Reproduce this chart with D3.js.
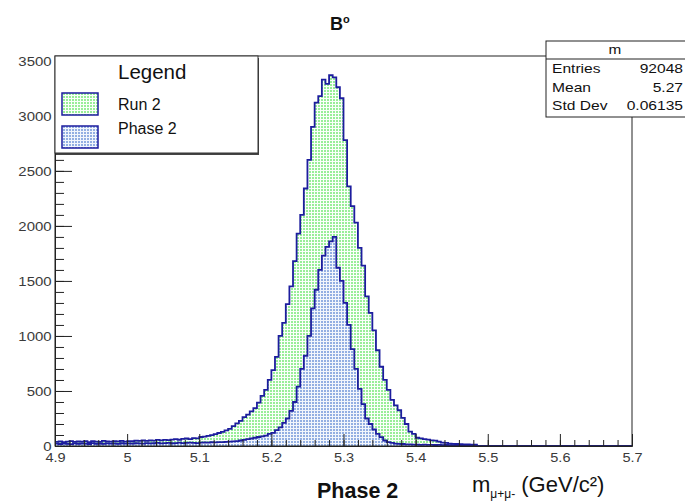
<!DOCTYPE html>
<html>
<head>
<meta charset="UTF-8">
<title>B0 mass</title>
<script src="https://cdnjs.cloudflare.com/ajax/libs/d3/7.8.5/d3.min.js"></script>
<style>
  body { margin: 0; background: #fff; }
  svg text { font-family: "Liberation Sans", Arial, sans-serif; }
</style>
</head>
<body>
<div id="chart"></div>
<script>
// histogram settings: 160 bins of 0.005 from 4.9 to 5.7
var xMin = 4.9, xMax = 5.7, binW = 0.005;

// Run 2 counts per bin
var run2 = [
  38,42,35,40,44,37,41,39,45,36,43,40,38,46,41,39,44,42,47,40,
  45,43,48,46,50,47,52,49,55,51,56,53,58,62,57,64,68,63,72,70,
  82,86,92,98,108,118,128,142,155,180,205,228,262,285,315,345,395,455,510,600,
  690,810,1000,1118,1290,1450,1680,1930,2100,2340,2600,2900,3120,3180,3330,3290,3370,3350,3260,3160,
  2780,2360,2180,2030,1800,1640,1360,1210,1050,870,720,600,510,420,370,325,255,200,130,110,
  75,70,62,58,52,48,40,30,28,22,20,18,16,15,14,13,12,0,0,0,
  0,0,0,0,0,0,0,0,0,0,0,0,0,0,0,0,0,0,0,0,
  0,0,0,0,0,0,0,0,0,0,0,0,0,0,0,0,0,0,0,0
];
// Phase 2 counts per bin
var phase2 = [
  22,18,25,20,17,23,19,24,21,18,26,20,22,19,24,21,23,20,25,22,
  24,21,26,23,22,27,24,25,28,23,26,29,25,27,30,26,28,31,29,27,
  30,32,30,34,33,36,35,38,40,42,45,50,55,62,68,75,82,88,95,110,
  120,145,170,210,250,320,400,540,700,820,1000,1250,1420,1600,1730,1810,1860,1900,1620,1500,
  1300,1100,880,700,520,380,250,200,150,110,80,50,35,28,22,20,18,15,14,12,
  13,11,12,10,11,9,10,8,9,7,8,7,6,6,5,5,4,0,0,0,
  0,0,0,0,0,0,0,0,0,0,0,0,0,0,0,0,0,0,0,0,
  0,0,0,0,0,0,0,0,0,0,0,0,0,0,0,0,0,0,0,0
];
var xTicks = [4.9, 5, 5.1, 5.2, 5.3, 5.4, 5.5, 5.6, 5.7];
var yTicks = [0, 500, 1000, 1500, 2000, 2500, 3000, 3500];
var legendNames = ["Run 2", "Phase 2"];
var statNames = ["Entries", "Mean", "Std Dev"];
var statValues = ["92048", "5.27", "0.06135"];

var width = 685, height = 502;
var padL = 55, padR = 632, padT = 56, padB = 446;
var lineColor = "#1d1d9e";

var svg = d3.select("#chart").append("svg")
  .attr("width", width).attr("height", height);

// dot patterns like ROOT fill styles
var defs = svg.append("defs");
var pg = defs.append("pattern").attr("id", "pgreen")
  .attr("width", 3).attr("height", 3).attr("patternUnits", "userSpaceOnUse");
pg.append("rect").attr("width", 3).attr("height", 3).attr("fill", "#fafffa");
pg.append("rect").attr("width", 2).attr("height", 2).attr("fill", "#98ee98");
var pb = defs.append("pattern").attr("id", "pblue")
  .attr("width", 3).attr("height", 3).attr("patternUnits", "userSpaceOnUse");
pb.append("rect").attr("width", 3).attr("height", 3).attr("fill", "#f2f6fc");
pb.append("rect").attr("width", 2).attr("height", 2).attr("fill", "#93afe2");

var x = d3.scaleLinear().domain([xMin, xMax]).range([padL, padR]);
var y = d3.scaleLinear().domain([0, 3544]).range([padB, padT]);

function stepPoints(vals) {
  var pts = vals.map(function (v, i) { return [xMin + i * binW, v]; });
  pts.push([xMin + vals.length * binW, vals[vals.length - 1]]);
  return pts;
}
var area = d3.area().curve(d3.curveStepAfter)
  .x(function (d) { return x(d[0]); }).y0(y(0)).y1(function (d) { return y(d[1]); });
var stepLine = d3.line().curve(d3.curveStepAfter)
  .x(function (d) { return x(d[0]); }).y(function (d) { return y(d[1]); });

[[run2, "url(#pgreen)"], [phase2, "url(#pblue)"]].forEach(function (s) {
  var pts = stepPoints(s[0]);
  svg.append("path").attr("d", area(pts)).attr("fill", s[1]);
  svg.append("path").attr("d", stepLine(pts)).attr("fill", "none")
    .attr("stroke", lineColor).attr("stroke-width", 1.8);
});

// frame
svg.append("rect").attr("x", padL).attr("y", padT)
  .attr("width", padR - padL).attr("height", padB - padT)
  .attr("fill", "none").attr("stroke", "#222").attr("stroke-width", 1);

// x axis: major 0.1, minor 0.02
var xMinor = d3.range(0, 41).map(function (i) { return xMin + i * 0.02; });
svg.append("g").attr("transform", "translate(0," + padB + ")")
  .call(d3.axisBottom(x).tickValues(xMinor).tickSize(-6).tickFormat(""))
  .call(function (g) { g.select(".domain").remove(); });
svg.append("g").attr("transform", "translate(0," + padB + ")")
  .call(d3.axisBottom(x).tickValues(xTicks).tickSize(-12).tickPadding(7)
    .tickFormat(function (d) { return String(+d.toFixed(1)); }))
  .call(function (g) {
    g.select(".domain").attr("stroke", "#222");
    g.selectAll("text").attr("font-size", 13).attr("fill", "#3a3a3a")
      .attr("transform", "scale(1.12,1)");
  });

// y axis: major 500, minor 100
var yMinor = d3.range(0, 3501, 100);
svg.append("g").attr("transform", "translate(" + padL + ",0)")
  .call(d3.axisLeft(y).tickValues(yMinor).tickSize(-9).tickFormat(""))
  .call(function (g) { g.select(".domain").remove(); });
svg.append("g").attr("transform", "translate(" + padL + ",0)")
  .call(d3.axisLeft(y).tickValues(yTicks).tickSize(-17).tickPadding(3).tickFormat(d3.format("d")))
  .call(function (g) {
    g.select(".domain").attr("stroke", "#222");
    g.selectAll("text").attr("font-size", 13).attr("fill", "#3a3a3a")
      .attr("transform", "scale(1.15,1)");
  });
svg.selectAll(".tick line").attr("stroke", "#222");

// legend
var lg = svg.append("g");
lg.append("rect").attr("x", 56).attr("y", 58).attr("width", 203).attr("height", 97).attr("fill", "#444");
lg.append("rect").attr("x", 55).attr("y", 56).attr("width", 203).attr("height", 97)
  .attr("fill", "#fff").attr("stroke", "#333").attr("stroke-width", 1);
lg.append("text").attr("x", 118).attr("y", 79).attr("font-size", 20.5)
  .attr("font-family", "'DejaVu Sans', sans-serif").attr("fill", "#111").text("Legend");
legendNames.forEach(function (name, i) {
  lg.append("rect").attr("x", 62).attr("y", 93 + i * 33).attr("width", 36).attr("height", 22)
    .attr("fill", i === 0 ? "url(#pgreen)" : "url(#pblue)")
    .attr("stroke", lineColor).attr("stroke-width", 1.5);
  lg.append("text").attr("x", 118).attr("y", 110 + i * 24).attr("font-size", 16)
    .attr("font-family", "'Open Sans', sans-serif").attr("fill", "#111").text(name);
});

// stats box
var sb = svg.append("g");
sb.append("rect").attr("x", 546).attr("y", 41).attr("width", 145).attr("height", 76)
  .attr("fill", "#fff").attr("stroke", "#222").attr("stroke-width", 1);
sb.append("line").attr("x1", 546).attr("x2", 685).attr("y1", 59).attr("y2", 59)
  .attr("stroke", "#222");
sb.append("text").attr("transform", "translate(615,54) scale(1.18,1)").attr("text-anchor", "middle")
  .attr("font-size", 13).attr("fill", "#111").text("m");
statNames.forEach(function (n, i) {
  var by = 73 + i * 18.7;
  sb.append("text").attr("transform", "translate(552," + by + ") scale(1.2,1)")
    .attr("font-size", 13).attr("fill", "#111").text(n);
  sb.append("text").attr("transform", "translate(683," + by + ") scale(1.2,1)")
    .attr("font-size", 13).attr("text-anchor", "end").attr("fill", "#111").text(statValues[i]);
});

// title
var t = svg.append("text").attr("x", 330).attr("y", 30).attr("font-size", 18)
  .attr("font-weight", "bold").attr("fill", "#111");
t.append("tspan").text("B");
t.append("tspan").attr("font-size", 11).attr("dy", -7).text("o");

// bottom labels
svg.append("text").attr("x", 317).attr("y", 498).attr("font-size", 21.5)
  .attr("font-weight", "bold").attr("font-family", "'Open Sans', sans-serif")
  .attr("fill", "#111").text("Phase 2");
var xl = svg.append("text").attr("x", 472).attr("y", 492).attr("font-size", 22)
  .attr("font-family", "'Open Sans', sans-serif").attr("fill", "#111");
xl.append("tspan").text("m");
xl.append("tspan").attr("font-size", 12).attr("dy", 6).text("μ+μ-");
xl.append("tspan").attr("dy", -6).text(" (GeV/c²)");
</script>
</body>
</html>
